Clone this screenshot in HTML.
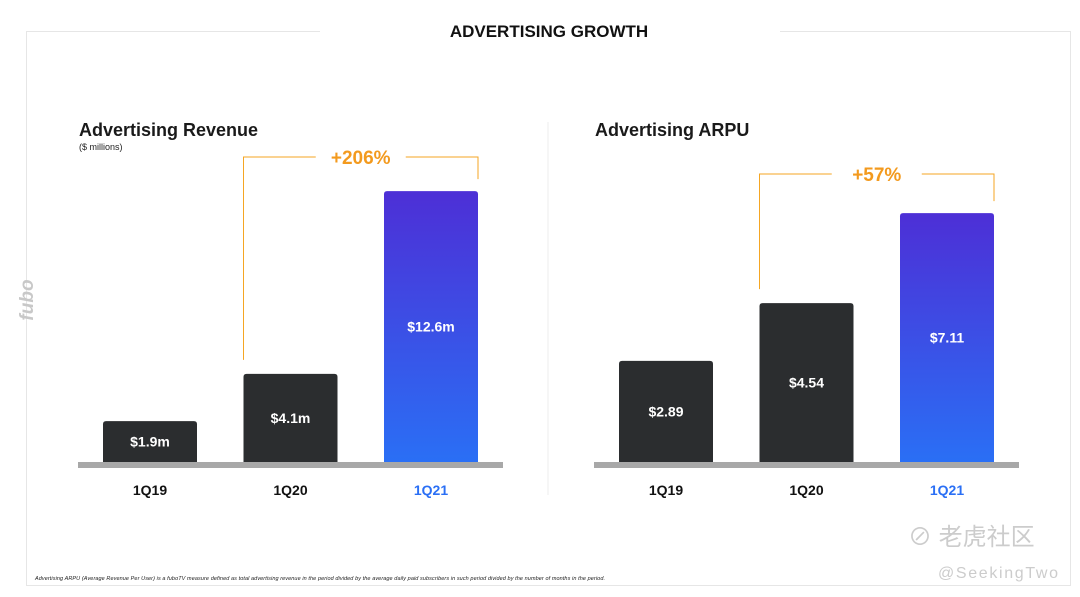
<!DOCTYPE html>
<html><head><meta charset="utf-8"><style>
body{margin:0;background:#fff;font-family:"Liberation Sans","Noto Sans CJK SC",sans-serif}
#root{position:relative;width:1080px;height:597px;overflow:hidden;background:#fff}
</style></head><body>
<div id="root">
<svg width="1080" height="597" viewBox="0 0 1080 597" xmlns="http://www.w3.org/2000/svg" id="svg">
<defs>
<linearGradient id="g1" x1="0" y1="0" x2="0" y2="1"><stop offset="0" stop-color="#4d2fd6"/><stop offset="1" stop-color="#2a6ff5"/></linearGradient>
</defs>
<rect x="26.5" y="31.5" width="1044" height="554" fill="none" stroke="#e6e6e6"/>
<rect x="320" y="20" width="460" height="22" fill="#fff"/>
<text x="549" y="37" text-anchor="middle" font-size="17" font-weight="bold" fill="#111">ADVERTISING GROWTH</text>
<line x1="548" y1="122" x2="548" y2="495" stroke="#eee"/>
<text transform="translate(33,300) rotate(-90)" text-anchor="middle" font-size="19" font-weight="bold" fill="#c8c8c8" font-style="italic">fubo</text>
<text x="79" y="136" font-size="18" font-weight="bold" fill="#1a1a1a">Advertising Revenue</text>
<text x="79" y="150" font-size="9" fill="#222">($ millions)</text>
<text x="595" y="136" font-size="18" font-weight="bold" fill="#1a1a1a">Advertising ARPU</text>
<g id="left"></g>
<g id="right"></g>
<text x="35" y="580" font-size="5.5" font-style="italic" fill="#222" textLength="570">Advertising ARPU (Average Revenue Per User) is a fuboTV measure defined as total advertising revenue in the period divided by the average daily paid subscribers in such period divided by the number of months in the period.</text>
<text x="908" y="545" font-size="24" fill="#ccc">⊘ 老虎社区</text>
<text x="938" y="578" font-size="16" fill="#ccc" textLength="120">@SeekingTwo</text>
</svg>
</div>
<script>
const categories=["1Q19","1Q20","1Q21"];
const revenueValues=[1.9,4.1,12.6];
const revenueLabels=["$1.9m","$4.1m","$12.6m"];
const arpuValues=[2.89,4.54,7.11];
const arpuLabels=["$2.89","$4.54","$7.11"];
const revenueGrowth="+206%";
const arpuGrowth="+57%";
const NS="http://www.w3.org/2000/svg";
function mk(p,t,a){const e=document.createElementNS(NS,t);for(const k in a)e.setAttribute(k,a[k]);p.appendChild(e);return e;}
function draw(g,vals,labels,growth,x0,step,scale,bracketY){
  const base=462,bw=94;
  const y=v=>base-v*scale;
  const axis=mk(g,'rect',{x:x0-25,y:base,width:step*2+bw+50,height:6,fill:'#a8a8a8'});
  
  
  vals.forEach((v,i)=>{
    const x=x0+i*step,last=i===vals.length-1;
    const r=mk(g,'path',{d:`M${x},${base}V${y(v)+3}Q${x},${y(v)} ${x+3},${y(v)}H${x+bw-3}Q${x+bw},${y(v)} ${x+bw},${y(v)+3}V${base}Z`,fill:last?'url(#g1)':'#2b2d2f'});
    
    
    const t=mk(g,'text',{x:x+bw/2,y:(y(v)+base)/2+5,'text-anchor':'middle','font-size':14,'font-weight':'bold',fill:'#fff'});
    t.textContent=labels[i];
    
    
    const c=mk(g,'text',{x:x+bw/2,y:495,'text-anchor':'middle','font-size':14,'font-weight':'bold',fill:last?'#2a6ff5':'#111'});
    c.textContent=categories[i];
    
    
  });
  const xa=x0+step,xb=x0+2*step+bw,mid=(xa+xb)/2;
  const b=mk(g,'path',{d:`M${xa},${y(vals[1])-14}V${bracketY}H${mid-45}M${mid+45},${bracketY}H${xb}V${y(vals[2])-12}`,fill:'none',stroke:'#f5a623','stroke-width':1});
  
  
  const gt=mk(g,'text',{x:mid,y:bracketY+7,'text-anchor':'middle','font-size':19,'font-weight':'bold',fill:'#f39a1e'});
  gt.textContent=growth;
  
  
}
draw(document.getElementById('left'),revenueValues,revenueLabels,revenueGrowth,103,140.5,21.5,157);
draw(document.getElementById('right'),arpuValues,arpuLabels,arpuGrowth,619,140.5,35,174);
</script>
</body></html>
